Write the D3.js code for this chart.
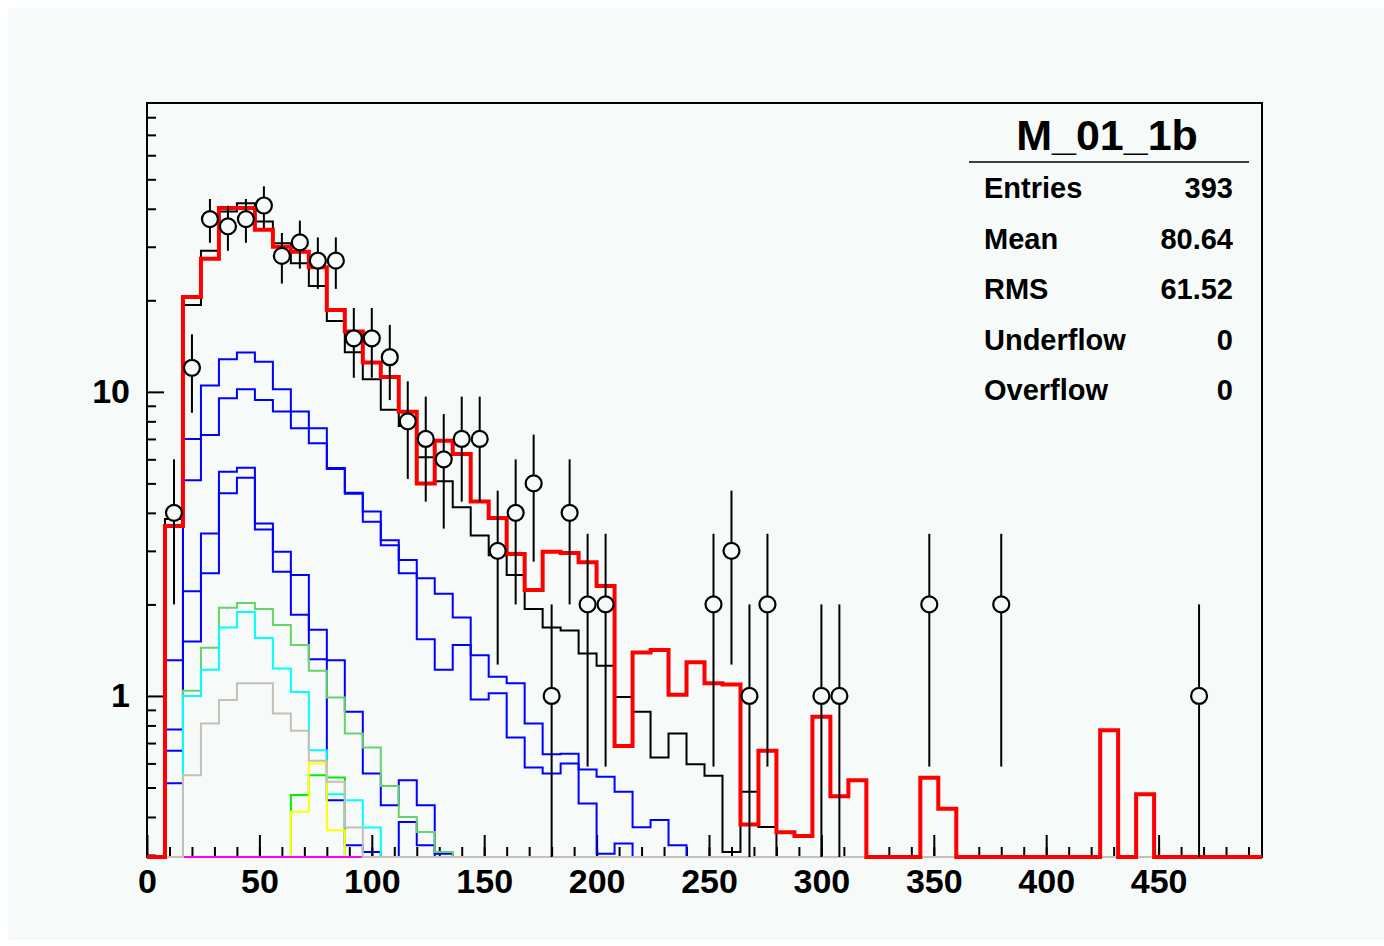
<!DOCTYPE html>
<html lang="en">
<head>
  <meta charset="UTF-8">
  <title>M_01_1b</title>
  <style>
  body {
    margin: 0;
    background: #ffffff;
  }
  svg {
    display: block;
    font-family: "Liberation Sans", Arial, sans-serif;
    font-weight: bold;
  }
  </style>
</head>
<body>
  <svg></svg>

  <script src="https://d3js.org/d3.v7.min.js"></script>
  <script>
  // 62 bins of width 8, from 0 to 496
  var binLow = d3.range(0, 496, 8);

  // observed counts (points with sqrt(N) errors)
  var dataCounts = [0, 4, 12, 37, 35, 37, 41, 28, 31, 27, 27, 15, 15, 13, 8, 7, 6, 7, 7, 3,
    4, 5, 1, 4, 2, 2, 0, 0, 0, 0, 0, 2, 3, 1, 2, 0, 0, 1, 1, 0,
    0, 0, 0, 2, 0, 0, 0, 2, 0, 0, 0, 0, 0, 0, 0, 0, 0, 0, 1, 0, 0, 0];

  var redHist = [0, 3.62, 20.5, 27.4, 40.2, 40.2, 34.1, 30.0, 28.9, 25.7, 18.6, 15.8, 12.5, 11.2, 8.6, 5.0, 6.9, 6.25, 4.36, 3.85,
    2.93, 2.23, 2.98, 2.95, 2.75, 2.30, 0.685, 1.39, 1.415, 1.01, 1.29, 1.10, 1.09, 0.378, 0.66, 0.356, 0.346, 0.855, 0.468, 0.528,
    0, 0, 0, 0.538, 0.426, 0, 0, 0, 0, 0, 0, 0, 0, 0.772, 0, 0.475, 0, 0, 0, 0, 0, 0];

  var blackHist = [0, 3.82, 19.3, 29.1, 39.2, 41.7, 36.3, 30.8, 26.5, 22.3, 17.1, 13.5, 11.0, 8.74, 7.72, 6.1, 5.08, 4.17, 3.37, 2.9,
    2.5, 1.93, 1.68, 1.64, 1.38, 1.256, 0.993, 0.887, 0.628, 0.753, 0.596, 0.546, 0.307, 0.484, 0.371, 0, 0, 0, 0, 0,
    0, 0, 0, 0, 0, 0, 0, 0, 0, 0, 0, 0, 0, 0, 0, 0, 0, 0, 0, 0, 0, 0];

  var blue1 = [0, 1.31, 7.0, 10.5, 12.8, 13.46, 12.57, 10.2, 8.61, 7.59, 5.62, 4.66, 4.04, 3.25, 2.80, 2.44, 2.17, 1.81, 1.36, 1.156,
    1.10, 0.812, 0.643, 0.646, 0.573, 0.542, 0.484, 0.370, 0.391, 0.323, 0, 0, 0, 0, 0, 0, 0, 0, 0, 0,
    0, 0, 0, 0, 0, 0, 0, 0, 0, 0, 0, 0, 0, 0, 0, 0, 0, 0, 0, 0, 0, 0];

  var blue2 = [0, 0.776, 5.12, 7.21, 9.53, 10.2, 9.40, 8.61, 7.59, 6.77, 5.58, 4.62, 3.74, 3.13, 2.53, 1.535, 1.22, 1.47, 0.974, 1.02,
    0.730, 0.582, 0.556, 0.600, 0.443, 0.303, 0.327, 0, 0, 0, 0, 0, 0, 0, 0, 0, 0, 0, 0, 0,
    0, 0, 0, 0, 0, 0, 0, 0, 0, 0, 0, 0, 0, 0, 0, 0, 0, 0, 0, 0, 0, 0];

  var blue3 = [0, 0.66, 2.21, 3.42, 5.46, 5.63, 3.69, 2.98, 2.50, 1.65, 1.31, 0.887, 0.556, 0.437, 0.528, 0.437, 0.303, 0, 0, 0,
    0, 0, 0, 0, 0, 0, 0, 0, 0, 0, 0, 0, 0, 0, 0, 0, 0, 0, 0, 0,
    0, 0, 0, 0, 0, 0, 0, 0, 0, 0, 0, 0, 0, 0, 0, 0, 0, 0, 0, 0, 0, 0];

  var blue4 = [0, 0.516, 1.51, 2.53, 4.64, 5.22, 3.53, 2.56, 1.85, 1.32, 0.454, 0.323, 0.307, 0, 0.385, 0.323, 0, 0, 0, 0,
    0, 0, 0, 0, 0, 0, 0, 0, 0, 0, 0, 0, 0, 0, 0, 0, 0, 0, 0, 0,
    0, 0, 0, 0, 0, 0, 0, 0, 0, 0, 0, 0, 0, 0, 0, 0, 0, 0, 0, 0, 0, 0];

  var greenHist = [0, 0, 1.04, 1.44, 1.95, 2.02, 1.93, 1.71, 1.47, 1.21, 0.989, 0.753, 0.677, 0.506, 0.40, 0.357, 0.307, 0, 0, 0,
    0, 0, 0, 0, 0, 0, 0, 0, 0, 0, 0, 0, 0, 0, 0, 0, 0, 0, 0, 0,
    0, 0, 0, 0, 0, 0, 0, 0, 0, 0, 0, 0, 0, 0, 0, 0, 0, 0, 0, 0, 0, 0];

  var cyanHist = [0, 0, 1.0, 1.22, 1.68, 1.89, 1.55, 1.23, 1.03, 0.663, 0.475, 0.454, 0.369, 0, 0, 0, 0, 0, 0, 0,
    0, 0, 0, 0, 0, 0, 0, 0, 0, 0, 0, 0, 0, 0, 0, 0, 0, 0, 0, 0,
    0, 0, 0, 0, 0, 0, 0, 0, 0, 0, 0, 0, 0, 0, 0, 0, 0, 0, 0, 0, 0, 0];

  var limeHist = [0, 0, 0, 0, 0, 0, 0, 0, 0.472, 0.549, 0.539, 0, 0, 0, 0, 0, 0, 0, 0, 0,
    0, 0, 0, 0, 0, 0, 0, 0, 0, 0, 0, 0, 0, 0, 0, 0, 0, 0, 0, 0,
    0, 0, 0, 0, 0, 0, 0, 0, 0, 0, 0, 0, 0, 0, 0, 0, 0, 0, 0, 0, 0, 0];

  var yellowHist = [0, 0, 0, 0, 0, 0, 0, 0, 0.416, 0.60, 0.362, 0, 0, 0, 0, 0, 0, 0, 0, 0,
    0, 0, 0, 0, 0, 0, 0, 0, 0, 0, 0, 0, 0, 0, 0, 0, 0, 0, 0, 0,
    0, 0, 0, 0, 0, 0, 0, 0, 0, 0, 0, 0, 0, 0, 0, 0, 0, 0, 0, 0, 0, 0];

  var magentaHist = [0, 0, 0, 0, 0, 0, 0, 0, 0, 0, 0, 0, 0, 0, 0, 0, 0, 0, 0, 0,
    0, 0, 0, 0, 0, 0, 0, 0, 0, 0, 0, 0, 0, 0, 0, 0, 0, 0, 0, 0,
    0, 0, 0, 0, 0, 0, 0, 0, 0, 0, 0, 0, 0, 0, 0, 0, 0, 0, 0, 0, 0, 0];

  var tanHist = [0, 0, 0.549, 0.812, 0.969, 1.10, 1.10, 0.876, 0.768, 0.612, 0.522, 0.369, 0, 0, 0, 0, 0, 0, 0, 0,
    0, 0, 0, 0, 0, 0, 0, 0, 0, 0, 0, 0, 0, 0, 0, 0, 0, 0, 0, 0,
    0, 0, 0, 0, 0, 0, 0, 0, 0, 0, 0, 0, 0, 0, 0, 0, 0, 0, 0, 0, 0, 0];

  var xTickLabels = [0, 50, 100, 150, 200, 250, 300, 350, 400, 450];
  var xMinorTicks = d3.range(10, 496, 10);
  var yTickLabels = [1, 10];
  var yMinorTicks = [0.3, 0.4, 0.5, 0.6, 0.7, 0.8, 0.9, 2, 3, 4, 5, 6, 7, 8, 9, 20, 30, 40, 50, 60, 70, 80];

  var statsTitle = "M_01_1b";
  var statsRows = [["Entries", "393"], ["Mean", "80.64"], ["RMS", "61.52"], ["Underflow", "0"], ["Overflow", "0"]];

  var width = 1384;
  var height = 946;
  var bg = "#f6faf8";
  var frame = { left: 147, right: 1262, top: 103, bottom: 857 };
  var yMin = 0.2954, yMax = 89.1;

  var xScale = d3.scaleLinear()
                .domain([0, 496])
                .range([frame.left, frame.right]);
  var yScale = d3.scaleLog()
                .domain([yMin, yMax])
                .range([frame.bottom, frame.top]);
  var yPos = v => yScale(Math.max(v, yMin));

  var svg = d3.select("svg")
      .attr("width", width)
      .attr("height", height);

  svg.append("rect")
      .attr("x", 8).attr("y", 8)
      .attr("width", width - 8).attr("height", height - 14)
      .attr("fill", bg);

  // axes, ticks pointing inside the frame
  svg.append("g")
      .attr("transform", "translate(0," + frame.bottom + ")")
      .call(d3.axisBottom(xScale).tickValues(xMinorTicks).tickSize(-10).tickSizeOuter(0).tickFormat(""))
      .call(g => g.select(".domain").remove());
  svg.append("g")
      .attr("transform", "translate(0," + frame.bottom + ")")
      .call(d3.axisBottom(xScale).tickValues(xTickLabels).tickSize(-22).tickSizeOuter(0).tickPadding(12))
      .call(g => g.select(".domain").remove())
      .selectAll("text")
        .attr("font-size", 34)
        .attr("font-family", "'Liberation Sans', Arial, sans-serif")
        .attr("font-weight", "bold")
        .attr("fill", "#000");
  svg.append("g")
      .attr("transform", "translate(" + frame.left + ",0)")
      .call(d3.axisLeft(yScale).tickValues(yMinorTicks).tickSize(-9).tickSizeOuter(0).tickFormat(""))
      .call(g => g.select(".domain").remove());
  svg.append("g")
      .attr("transform", "translate(" + frame.left + ",0)")
      .call(d3.axisLeft(yScale).tickValues(yTickLabels).tickSize(-17).tickSizeOuter(0).tickPadding(17).tickFormat(d3.format("d")))
      .call(g => g.select(".domain").remove())
      .selectAll("text")
        .attr("font-size", 34)
        .attr("font-family", "'Liberation Sans', Arial, sans-serif")
        .attr("font-weight", "bold")
        .attr("fill", "#000");
  svg.selectAll(".tick line").attr("stroke", "#000").attr("stroke-width", 2);

  svg.append("rect")
      .attr("x", frame.left).attr("y", frame.top)
      .attr("width", frame.right - frame.left).attr("height", frame.bottom - frame.top)
      .attr("fill", "none")
      .attr("stroke", "#000")
      .attr("stroke-width", 2);

  // histograms as step lines, bottom of frame where a bin is below range
  var stepLine = d3.line()
      .x(d => xScale(d[0]))
      .y(d => yPos(d[1]))
      .curve(d3.curveStepAfter);

  var histograms = [
    { values: blackHist, color: "#000000", width: 2 },
    { values: blue1, color: "#0000ff", width: 2 },
    { values: blue2, color: "#0000ff", width: 2 },
    { values: blue3, color: "#0000ff", width: 2 },
    { values: blue4, color: "#0000ff", width: 2 },
    { values: greenHist, color: "#66d466", width: 2 },
    { values: cyanHist, color: "#00ffff", width: 2 },
    { values: limeHist, color: "#00ee00", width: 2 },
    { values: yellowHist, color: "#ffff00", width: 2 },
    { values: magentaHist, color: "#ff00ff", width: 2 },
    { values: tanHist, color: "#c8beb4", width: 2 },
    { values: redHist, color: "#ff0000", width: 4 }
  ];

  svg.append("g")
    .selectAll("path")
    .data(histograms)
    .enter()
    .append("path")
      .attr("d", h => stepLine(binLow.map((b, i) => [b, h.values[i]]).concat([[496, h.values[h.values.length - 1]]])))
      .attr("fill", "none")
      .attr("stroke", h => h.color)
      .attr("stroke-width", h => h.width);

  // data points with error bars
  var r = 8;
  var points = binLow.map((b, i) => ({ x: b + 4, n: dataCounts[i] })).filter(d => d.n > 0);
  var pts = svg.append("g")
    .selectAll("g")
    .data(points)
    .enter()
    .append("g");
  pts.append("line")
      .attr("x1", d => xScale(d.x)).attr("x2", d => xScale(d.x))
      .attr("y1", d => yPos(d.n + Math.sqrt(d.n)))
      .attr("y2", d => yPos(d.n) - r)
      .attr("stroke", "#000").attr("stroke-width", 2);
  pts.append("line")
      .attr("x1", d => xScale(d.x)).attr("x2", d => xScale(d.x))
      .attr("y1", d => yPos(d.n) + r)
      .attr("y2", d => yPos(d.n - Math.sqrt(d.n)))
      .attr("stroke", "#000").attr("stroke-width", 2);
  pts.append("circle")
      .attr("cx", d => xScale(d.x))
      .attr("cy", d => yPos(d.n))
      .attr("r", r)
      .attr("fill", bg)
      .attr("stroke", "#000")
      .attr("stroke-width", 2.2);

  // stats box
  var stats = svg.append("g");
  stats.append("text")
      .attr("x", 1107).attr("y", 150)
      .attr("text-anchor", "middle")
      .attr("font-size", 43)
      .text(statsTitle);
  stats.append("line")
      .attr("x1", 969).attr("x2", 1249)
      .attr("y1", 162).attr("y2", 162)
      .attr("stroke", "#000").attr("stroke-width", 1.5);
  var rows = stats.selectAll("g.row")
    .data(statsRows)
    .enter()
    .append("g")
      .attr("class", "row")
      .attr("transform", (d, i) => "translate(0," + (198 + i * 50.5) + ")");
  rows.append("text")
      .attr("x", 984)
      .attr("font-size", 29)
      .text(d => d[0]);
  rows.append("text")
      .attr("x", 1233)
      .attr("text-anchor", "end")
      .attr("font-size", 29)
      .text(d => d[1]);
  </script>
</body>
</html>
